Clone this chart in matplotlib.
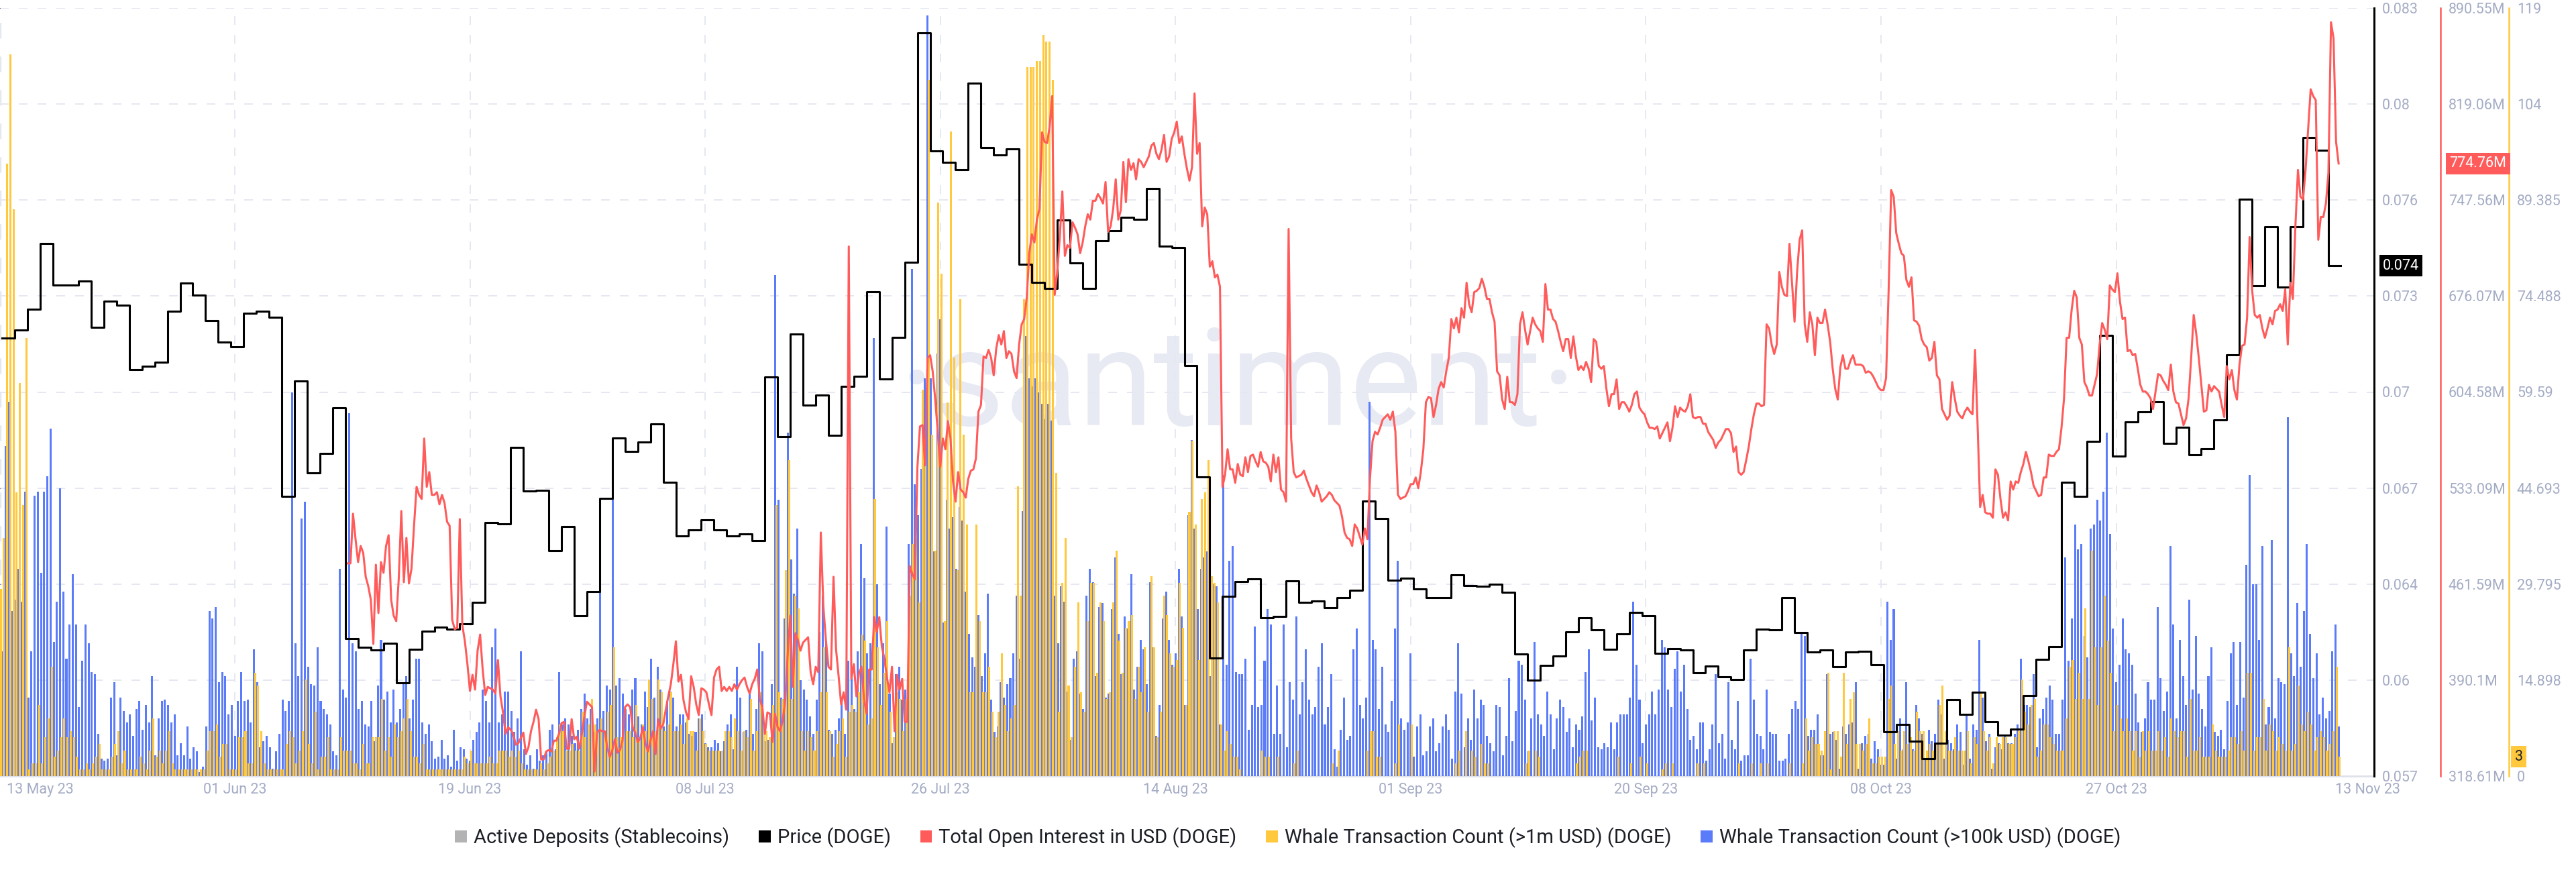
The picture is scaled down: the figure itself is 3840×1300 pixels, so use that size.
import numpy as np
import pandas as pd
import matplotlib
matplotlib.use("Agg")
import matplotlib.pyplot as plt
import matplotlib.dates as mdates
from matplotlib.patches import Patch

# --- Data ---
# Price (DOGE), daily close, drawn as a step line
price_start = "2023-05-13 21:36"
price_end = "2023-11-13 20:50"
price = [
    0.07183, 0.07210, 0.07281, 0.07504, 0.07362, 0.07362, 0.07376, 0.07220, 0.07308, 0.07295,
    0.07075, 0.07088, 0.07102, 0.07274, 0.07369, 0.07327, 0.07242, 0.07169, 0.07154, 0.07267,
    0.07274, 0.07254, 0.06648, 0.07037, 0.06726, 0.06793, 0.06946, 0.06165, 0.06137, 0.06127,
    0.06150, 0.06015, 0.06130, 0.06191, 0.06203, 0.06198, 0.06216, 0.06287, 0.06558, 0.06553,
    0.06812, 0.06665, 0.06668, 0.06462, 0.06545, 0.06242, 0.06325, 0.06641, 0.06844, 0.06800,
    0.06830, 0.06892, 0.06695, 0.06514, 0.06533, 0.06567, 0.06533, 0.06514, 0.06519, 0.06497,
    0.07051, 0.06848, 0.07196, 0.06956, 0.06990, 0.06854, 0.07019, 0.07054, 0.07340, 0.07044,
    0.07186, 0.07440, 0.08215, 0.07816, 0.07777, 0.07752, 0.08046, 0.07828, 0.07802, 0.07824,
    0.07433, 0.07371, 0.07350, 0.07582, 0.07438, 0.07350, 0.07513, 0.07547, 0.07592, 0.07584,
    0.07690, 0.07493, 0.07490, 0.07090, 0.06712, 0.06100, 0.06308, 0.06358, 0.06367, 0.06235,
    0.06240, 0.06360, 0.06287, 0.06292, 0.06269, 0.06303, 0.06328, 0.06631, 0.06573, 0.06364,
    0.06370, 0.06333, 0.06303, 0.06304, 0.06382, 0.06345, 0.06342, 0.06350, 0.06323, 0.06113,
    0.06025, 0.06074, 0.06106, 0.06188, 0.06235, 0.06194, 0.06130, 0.06181, 0.06255, 0.06243,
    0.06115, 0.06132, 0.06128, 0.06050, 0.06072, 0.06035, 0.06027, 0.06127, 0.06198, 0.06194,
    0.06303, 0.06186, 0.06120, 0.06127, 0.06071, 0.06120, 0.06123, 0.06077, 0.05849, 0.05874,
    0.05818, 0.05759, 0.05812, 0.05959, 0.05908, 0.05984, 0.05884, 0.05839, 0.05859, 0.05973,
    0.06096, 0.06138, 0.06695, 0.06646, 0.06832, 0.07191, 0.06783, 0.06898, 0.06932, 0.06966,
    0.06826, 0.06880, 0.06788, 0.06809, 0.06905, 0.07127, 0.07653, 0.07360, 0.07560, 0.07355,
    0.07559, 0.07862, 0.07819, 0.07428,
]

# Total Open Interest in USD (DOGE), millions, one point every 4.8 h
oi_start = "2023-06-10 02:24"
oi_step = "288min"
oi = [
    477, 477, 514, 495, 478, 490, 485, 467, 460, 450, 417, 476, 440, 478, 470, 490, 498, 450, 438, 434,
    466,
    516, 463, 496, 462, 473, 505, 534, 528, 525, 570,
    534, 545, 528, 528, 530, 521, 528, 522, 508, 505,
    435, 428, 429, 510, 431, 419, 402, 382, 394, 383,
    412, 424, 398, 379, 385, 384, 383, 380, 405, 378,
    366, 350, 355, 353, 350, 342, 343, 347, 351, 335,
    340, 352, 359, 368, 361, 331, 331, 337, 338, 337,
    345, 345, 350, 358, 359, 339, 339, 361, 346, 348,
    339, 350, 363, 374, 372, 370, 322, 351, 353, 352,
    352, 340, 333, 338, 346, 336, 338, 345, 370, 372,
    370, 355, 351, 344, 347, 355, 343, 337, 345, 352,
    335, 361, 354, 357, 368, 378, 387, 402, 419, 389,
    394, 375, 366, 361, 393, 385, 372, 364, 384, 383,
    381, 372, 364, 392, 398, 400, 382, 385, 382, 385,
    382, 387, 383, 387, 390, 392, 385, 380, 387, 391,
    398, 376, 370, 350, 366, 365, 344, 365, 355, 352,
    360, 375, 410, 438, 385,
    425, 420, 412, 418, 420, 422, 396, 387, 400, 396,
    500, 445, 420, 400, 398, 467, 413, 393, 372, 381,
    368, 713, 391, 402, 378, 395, 400, 376, 365, 398,
    398, 437, 426, 437, 415, 406, 392, 381, 400, 352,
    394, 383, 391, 359, 359, 475, 469, 465, 549, 579,
    580, 550, 630, 632, 620, 599, 575, 549, 570, 562,
    583, 570, 538, 523, 545, 532, 530, 526, 540, 546,
    547, 555, 590, 595, 631, 630, 636, 630, 617, 637,
    647, 640, 650, 630, 635, 633, 620, 615, 640, 655,
    659, 675, 708, 722, 716, 733, 741, 798, 791, 790,
    802, 825, 677, 694, 720, 754, 706, 714, 712, 731,
    727, 722, 708, 716, 728, 737, 733, 747, 747, 752,
    749, 745, 761, 724, 728, 741, 763, 733, 740, 776,
    746, 778, 770, 775, 763, 778, 776, 772, 776, 780,
    788, 790, 782, 778, 785, 796, 776, 780, 793, 798,
    806, 790, 795, 782, 771,
    762, 772, 827, 782, 790, 728, 742, 737, 698, 702,
    690, 692, 683, 534, 543, 562, 547, 547, 537, 551,
    543, 542, 556, 545, 557, 558, 553, 549, 560, 553,
    552, 549, 538, 558, 545, 556, 532, 530, 523, 726,
    570, 545, 541, 542, 543, 546, 540, 535, 530, 527,
    535, 530, 523, 525, 527, 530, 528, 524, 522, 520,
    512, 500, 496, 495, 490, 506, 503, 497, 491, 503,
    495, 540, 568, 575, 573, 578, 584, 586, 588, 584,
    590, 575, 528, 525, 526, 527, 531, 536, 536, 541,
    533, 545, 562, 597, 601, 600, 586, 595, 607, 612,
    608, 620, 630, 659, 652, 660, 649, 667, 660, 686,
    670, 664, 679, 680, 682, 689, 683, 674, 674, 664,
    657, 620, 617, 599, 592, 616, 597, 597, 595, 603,
    655, 664, 651, 640, 650, 660, 655, 652, 650, 642,
    685, 666, 666, 659, 657, 650, 642, 635, 644, 644,
    630, 646, 631, 621, 624, 621, 627,
    622, 612, 644, 642, 624, 622, 624, 607, 594, 603,
    603, 614, 592, 597, 597, 594, 590, 595, 603, 605,
    593, 590, 588, 582, 578, 578, 577, 579, 570, 574,
    578, 582, 568, 578, 594, 586, 593, 591, 590, 594,
    603, 586, 585, 586, 586, 581, 581, 575, 572, 569,
    563, 567, 569, 573, 577, 577, 574, 560, 564, 545,
    543, 545, 554, 564, 577, 588, 596, 596, 594, 595,
    655, 652, 640, 633, 640, 694, 683, 677, 676, 715,
    686, 657, 694, 718, 725, 655, 642, 664, 655, 632,
    660, 656, 656, 666, 655, 642, 622, 607, 599, 623,
    632, 622, 622, 628, 632, 625, 625, 625, 624, 619,
    620, 619, 616, 612, 608, 606, 606, 615, 680, 755,
    750, 723, 715, 708, 706, 688, 683, 690, 658, 657,
    654, 644, 640, 638, 628, 630, 642, 617, 614, 592,
    588, 584, 587, 612, 600, 590, 587, 585, 590, 593,
    590, 588, 636, 580,
    519, 528, 515, 514, 514, 511, 547, 543, 525, 511,
    515, 509, 538, 532, 538, 537, 545, 551, 560, 553,
    545, 535, 531, 527, 528, 541, 541, 558, 557, 557,
    560, 562, 578, 600, 645, 645, 666, 680, 675, 645,
    640, 612, 608, 602, 602, 610, 618, 640, 656, 651,
    644, 684, 681, 679, 693, 672, 659, 660, 635, 636,
    632, 633, 622, 610, 605, 605, 603, 600, 592, 605,
    618, 617, 613, 610, 606, 625, 605, 597, 596, 588,
    580, 585, 600, 630, 662, 648, 630, 610, 590, 591,
    610, 605, 609, 607, 605, 595, 586, 624, 614, 621,
    606, 599, 625, 639, 640, 660, 720, 680, 662, 660,
    662, 652, 645, 652, 660, 655, 665, 666, 670, 665,
    681, 640, 686, 674, 728, 770, 750, 748, 770, 800,
    830, 825, 822, 718, 735, 735, 745, 768, 880, 868,
    791, 774.76,
]

# Whale Transaction Count (DOGE), one bar every 6 h
bars_start = "2023-05-13 18:00"
bars_step = "6h"
whale_100k = [
    57, 65, 172, 195, 86, 92, 108, 91, 148, 41, 65, 146, 148, 106, 148, 156, 181, 70, 91, 150,
    96, 61, 79, 105, 79, 36, 60, 79, 69, 54, 53, 22, 9, 8, 9, 41, 49, 11, 41, 34,
    28, 32, 21, 35, 39, 24, 37, 28, 52, 11, 30, 39, 40, 37, 28, 32, 11, 17, 11, 26,
    9, 15, 13, 2, 5, 26, 86, 82, 88, 49, 54, 52, 32, 37, 21, 39, 54, 39, 40, 28,
    66, 49, 15, 18, 21, 15, 4, 13, 22, 40, 34, 39, 200, 69, 52, 134, 143, 57, 48, 47,
    67, 39, 35, 32, 27, 13, 11, 108, 45, 41, 189, 69, 65, 35, 39, 27, 26, 39, 18, 47,
    71, 40, 44, 28, 45, 28, 35,
    49, 52, 30, 40, 61, 61, 28, 22, 27, 18, 9, 10, 19, 9, 11, 5, 24, 8, 15, 14,
    9, 8, 19, 23, 28, 45, 39, 28, 67, 77, 28, 32, 44, 44, 34, 23, 30, 65, 14, 6,
    11, 4, 14, 8, 11, 13, 24, 27, 14, 54, 27, 30, 27, 21, 17, 24, 35, 43, 30, 35,
    23, 30, 100, 34, 47, 45, 155, 47, 51, 43, 35, 32, 45, 51, 31, 27, 44, 36, 61, 41,
    57, 45, 26, 39, 44, 41, 26, 32, 32, 28, 22, 21, 23, 30, 32, 17, 15, 15, 19, 17,
    13, 18, 27, 32, 14, 57, 41, 23, 24, 43, 22, 35, 69, 65, 18, 19, 48, 261, 144, 41,
    82, 179, 113, 95, 129,
    50, 45, 40, 31, 22, 40, 75, 94, 69, 24, 22, 24, 30, 40, 22, 60, 51, 35, 65, 121,
    103, 64, 69, 228, 100, 48, 69, 130, 43, 17, 53, 57, 40, 45, 121, 264, 152, 136, 160, 207,
    396, 207, 117, 220, 238, 80, 144, 129, 135, 108, 140, 133, 96, 74, 62, 57, 84, 52, 64, 95,
    40, 23, 26, 49, 41, 48, 51, 64, 94, 61, 138, 229, 207, 203, 207, 200, 194, 186, 194, 185,
    94, 69, 99, 91, 44, 19, 61, 65, 43, 35, 94, 108, 101, 52, 88, 90, 41, 43, 87, 114,
    74, 53, 83, 77, 105, 45, 57, 71, 66, 48, 101, 67, 21, 37, 82, 96, 71, 58, 64, 108,
    83, 37, 136, 175,
    129, 87, 108, 114, 117, 52, 100, 99, 27, 157, 58, 112, 120, 54, 53, 53, 61, 24, 37, 78,
    36, 37, 60, 87, 79, 22, 47, 22, 79, 15, 49, 40, 83, 32, 49, 66, 40, 32, 36, 57,
    69, 27, 36, 53, 14, 5, 24, 41, 19, 21, 66, 77, 37, 30, 41, 195, 71, 66, 35, 57,
    27, 23, 39, 77, 112, 30, 24, 28, 64, 10, 26, 32, 11, 13, 26, 30, 13, 17, 26, 32,
    24, 9, 44, 69, 43, 15, 30, 19, 45, 30, 40, 37, 21, 17, 13, 37, 36, 11, 21, 51,
    18, 34, 60, 58, 40, 13, 30, 70, 32, 27, 21, 44, 32, 14, 30, 40, 36, 23, 30, 15,
    27, 24, 31, 54, 66,
    29, 41, 15, 14, 17, 15, 28, 14, 28, 32, 32, 32, 41, 91, 58, 40, 17, 27, 32, 44,
    32, 45, 71, 67, 45, 36, 56, 65, 44, 58, 35, 19, 21, 14, 28, 28, 8, 14, 27, 53,
    17, 22, 9, 49, 19, 14, 39, 8, 11, 11, 61, 40, 22, 21, 14, 45, 23, 22, 22, 8,
    8, 9, 22, 35, 39, 35, 75, 73, 21, 24, 24, 32, 11, 11, 53, 22, 23, 19, 4, 26,
    22, 27, 28, 49, 4, 17, 21, 22, 9, 18, 14, 6, 6, 91, 71, 87, 9, 30, 14, 49,
    22, 14, 37, 30, 22, 9, 24, 18, 22, 40, 32, 9, 19, 17, 14, 27, 23, 6, 32, 9,
    27, 24, 71, 41,
    18, 22, 4, 15, 17, 14, 21, 17, 17, 22, 27, 61, 37, 37, 36, 53, 15, 30, 35, 41,
    47, 40, 22, 22, 40, 114, 60, 82, 131, 118, 121, 73, 62, 129, 131, 144, 133, 148, 179, 126,
    77, 49, 58, 82, 66, 64, 58, 43, 28, 23, 30, 49, 40, 40, 88, 51, 34, 44, 120, 79,
    30, 71, 52, 37, 92, 45, 73, 43, 35, 26, 52, 67, 23, 21, 24, 14, 39, 64, 70, 37,
    70, 41, 110, 157, 100, 100, 71, 120, 27, 36, 123, 30, 51, 49, 48, 187, 64, 52, 90, 57,
    86, 121, 74, 51, 64, 32, 41, 30, 34, 65, 79, 26,
]
whale_1m = [
    29, 37, 95, 112, 88, 44, 61, 42, 68, 1, 2, 2, 11, 2, 6, 9, 17, 3, 4, 6,
    9, 6, 7, 6, 3, 1, 1, 2, 1, 2, 3, 5, 1, 1, 1, 3, 5, 7, 2, 4,
    1, 1, 1, 1, 3, 2, 1, 4, 9, 3, 4, 2, 4, 7, 2, 1, 1, 1, 1, 1,
    1, 1, 1, 1, 1, 4, 7, 7, 8, 3, 5, 5, 1, 1, 1, 6, 6, 7, 2, 2,
    16, 14, 7, 2, 1, 1, 1, 1, 1, 1, 5, 7, 6, 2, 4, 7, 15, 5, 2, 10,
    1, 3, 3, 6, 1, 1, 1, 6, 4, 4, 4, 2, 2, 1, 5, 2, 2, 6, 6, 6,
    12, 4, 6, 3, 8, 6, 7,
    9, 12, 7, 3, 3, 2, 5, 1, 1, 1, 1, 1, 1, 1, 1, 1, 1, 1, 1, 3,
    2, 4, 2, 2, 2, 2, 2, 3, 2, 2, 4, 4, 4, 3, 4, 3, 4, 2, 1, 1,
    1, 1, 1, 2, 1, 2, 3, 4, 6, 8, 7, 4, 4, 5, 4, 4, 10, 6, 8, 12,
    8, 7, 9, 7, 10, 11, 20, 6, 6, 8, 7, 7, 6, 11, 6, 8, 7, 15, 12, 7,
    15, 13, 7, 8, 13, 7, 7, 8, 5, 9, 7, 7, 4, 9, 7, 5, 4, 4, 4, 4,
    4, 7, 7, 6, 9, 7, 4, 7, 6, 12, 4, 7, 13, 8, 7, 6, 11, 42, 13, 12,
    32, 49, 12, 28, 26,
    7, 4, 7, 6, 4, 7, 13, 20, 13, 7, 3, 5, 7, 9, 3, 10, 11, 10, 13, 22,
    21, 8, 9, 43, 20, 11, 16, 24, 10, 6, 13, 12, 7, 12, 28, 36, 37, 27, 60, 51,
    108, 53, 35, 89, 78, 24, 58, 100, 65, 32, 74, 53, 39, 13, 13, 39, 24, 13, 13, 17,
    10, 6, 10, 19, 11, 7, 9, 11, 45, 28, 74, 110, 110, 110, 111, 111, 115, 114, 114, 108,
    47, 10, 30, 37, 14, 6, 17, 27, 13, 10, 24, 30, 30, 16, 27, 24, 12, 13, 27, 35,
    21, 16, 23, 24, 25, 12, 17, 13, 20, 10, 31, 20, 6, 10, 28, 25, 19, 17, 18, 30,
    23, 11, 41, 52,
    39, 18, 43, 44, 49, 31, 30, 27, 8, 4, 7, 5, 3, 3, 1, 0, 0, 0, 0, 0,
    0, 4, 3, 3, 0, 0, 3, 0, 0, 0, 0, 2, 4, 0, 0, 0, 0, 0, 0, 0,
    0, 0, 0, 2, 0, 4, 0, 0, 0, 0, 0, 0, 0, 0, 4, 7, 7, 3, 3, 0,
    0, 0, 0, 2, 8, 0, 0, 0, 8, 0, 0, 0, 0, 0, 0, 0, 0, 0, 0, 0,
    0, 0, 2, 4, 0, 7, 0, 4, 3, 0, 5, 2, 2, 0, 0, 0, 0, 0, 0, 0,
    0, 0, 0, 0, 2, 4, 0, 4, 3, 0, 0, 0, 0, 0, 0, 0, 0, 0, 0, 0,
    2, 3, 4, 4, 0,
    0, 0, 0, 0, 0, 0, 0, 0, 3, 0, 0, 0, 2, 0, 0, 3, 0, 2, 0, 0,
    0, 0, 1, 2, 0, 2, 0, 0, 0, 0, 0, 0, 0, 2, 0, 2, 0, 0, 0, 0,
    0, 0, 0, 0, 0, 0, 2, 0, 0, 0, 2, 0, 0, 2, 0, 2, 0, 0, 0, 0,
    0, 0, 2, 0, 0, 0, 2, 9, 4, 6, 5, 5, 4, 7, 16, 1, 7, 7, 3, 16,
    5, 12, 13, 5, 5, 4, 5, 9, 2, 2, 3, 3, 3, 12, 14, 5, 7, 4, 7, 5,
    6, 4, 10, 7, 7, 4, 5, 4, 5, 11, 14, 7, 4, 4, 6, 4, 4, 4, 7, 2,
    6, 5, 13, 7,
    4, 6, 2, 6, 5, 6, 6, 5, 5, 6, 7, 15, 10, 8, 11, 12, 3, 4, 8, 8,
    6, 5, 4, 4, 4, 9, 17, 18, 12, 16, 12, 26, 12, 35, 20, 11, 20, 28, 21, 16,
    7, 11, 9, 7, 9, 7, 4, 7, 3, 7, 4, 7, 4, 4, 7, 4, 6, 3, 9, 7,
    6, 7, 7, 3, 12, 4, 4, 6, 3, 3, 3, 8, 4, 3, 3, 3, 4, 6, 6, 5,
    7, 4, 16, 16, 4, 6, 6, 12, 4, 8, 7, 4, 6, 5, 4, 20, 4, 5, 14, 8,
    7, 10, 8, 4, 6, 7, 6, 4, 5, 7, 17, 3,
]

# axis ticks as printed on the chart
price_ticks = [0.057, 0.06025, 0.0635, 0.06675, 0.07, 0.07325, 0.0765, 0.07975, 0.083]
price_labels = ["0.057", "0.06", "0.064", "0.067", "0.07", "0.073", "0.076", "0.08", "0.083"]
oi_ticks = [318.61, 390.10, 461.59, 533.09, 604.58, 676.07, 747.56, 819.06, 890.55]
oi_labels = ["318.61M", "390.1M", "461.59M", "533.09M", "604.58M", "676.07M", "747.56M", "819.06M", "890.55M"]
whale_ticks = [0, 14.898, 29.795, 44.693, 59.59, 74.488, 89.385, 104.28, 119.18]
whale_labels = ["0", "14.898", "29.795", "44.693", "59.59", "74.488", "89.385", "104", "119"]
blue_axis_max = 400  # hidden scale of the >100k series

legend_labels = ["Active Deposits (Stablecoins)", "Price (DOGE)", "Total Open Interest in USD (DOGE)",
                 "Whale Transaction Count (>1m USD) (DOGE)", "Whale Transaction Count (>100k USD) (DOGE)"]

# --- Styling ---
BLUE = "#5b7cfa"
YELLOW = "#ffc83d"
RED = "#ff5b5b"
GRAY = "#b3b3b3"
GRID = "#e6e8f1"
TICK = "#a4acc5"
TEXT = "#1d1f27"

plt.rcParams["font.family"] = ["Roboto", "DejaVu Sans"]

W, H = 3840, 1300
PX = 0.72  # points per pixel at dpi 100
fig = plt.figure(figsize=(W / 100, H / 100), dpi=100)
left_px, right_px, top_px, bottom_px = 0, 3539, 12, 1157
ax = fig.add_axes([left_px / W, (H - bottom_px) / H, (right_px - left_px) / W, (bottom_px - top_px) / H])

bar_t = mdates.date2num(pd.date_range(bars_start, periods=len(whale_100k), freq=bars_step).to_pydatetime())
oi_t = mdates.date2num(pd.date_range(oi_start, periods=len(oi), freq=oi_step).to_pydatetime())
price_t = list(mdates.date2num(pd.date_range(price_start, periods=len(price), freq="D").to_pydatetime()))
price_t.append(mdates.date2num(pd.Timestamp(price_end).to_pydatetime()))
price_y = price + [price[-1]]

x_left = mdates.date2num(pd.Timestamp("2023-05-13 17:31").to_pydatetime())
x_right = mdates.date2num(pd.Timestamp("2023-11-16 11:45").to_pydatetime())
tick_t = mdates.date2num(pd.date_range("2023-06-01 04:48", periods=9, freq=pd.Timedelta(days=18.5)).to_pydatetime())

# base axes: grid, watermark, date labels
ax.set_xlim(x_left, x_right)
ax.set_ylim(price_ticks[0], price_ticks[-1])
ax.set_yticks(price_ticks)
ax.set_xticks(tick_t)
ax.set_xticklabels([mdates.num2date(t).strftime("%d %b %y") for t in tick_t])
dash = (0, (6.7, 7.7))
ax.grid(True, color=GRID, lw=1.4, linestyle=dash)
ax.axvline(x_left, color=GRID, lw=2.5, linestyle=dash)
ax.tick_params(axis="y", left=False, labelleft=False, right=False)
ax.tick_params(axis="x", length=0, pad=7, labelsize=15.5, labelcolor=TICK)
for s in ["left", "top", "right"]:
    ax.spines[s].set_visible(False)
ax.spines["bottom"].set_color("#dfe2eb")
ax.spines["bottom"].set_linewidth(2)

first_lbl = mdates.num2date(bar_t[0]).strftime("%d %b %y")
last_lbl = mdates.num2date(price_t[-1]).strftime("%d %b %y")
ax.annotate(first_lbl, xy=(x_left, 0), xycoords=ax.get_xaxis_transform(), xytext=(7, -7),
            textcoords="offset points", ha="left", va="top", fontsize=15.5, color=TICK)
ax.annotate(last_lbl, xy=(price_t[-1], 0), xycoords=ax.get_xaxis_transform(), xytext=(29, -7),
            textcoords="offset points", ha="center", va="top", fontsize=15.5, color=TICK)

wm = fig.text(0.4805, (H - 634) / H, "\u00b7santiment\u00b7", ha="center", va="baseline",
              fontsize=150, color="#e7e9f3", zorder=0)
fig.canvas.draw()
wm_w = wm.get_window_extent(fig.canvas.get_renderer()).width
wm.set_fontsize(150 * 1010 / wm_w)
wm.remove()
ax.add_artist(wm)
wm.set_transform(fig.transFigure)

# whale bars: the two series sit side by side inside each 6 h slot
bw = 0.16
axb = ax.twinx()
axb.bar(bar_t - 0.045, whale_100k, width=bw, color=BLUE, linewidth=0)
axb.set_ylim(0, blue_axis_max)
axb.set_axis_off()

axy = ax.twinx()
axy.bar(bar_t + 0.045, whale_1m, width=bw, color=YELLOW, linewidth=0)
axy.set_ylim(whale_ticks[0], whale_ticks[-1])
axy.set_yticks(whale_ticks)
axy.set_yticklabels(whale_labels)

# price step line
axp = ax.twinx()
axp.plot(price_t, price_y, drawstyle="steps-post", color="black", lw=2.2)
axp.set_ylim(price_ticks[0], price_ticks[-1])
axp.set_yticks(price_ticks)
axp.set_yticklabels(price_labels)

# open interest line
axo = ax.twinx()
axo.plot(oi_t, oi, color=RED, lw=2.2)
axo.set_ylim(oi_ticks[0], oi_ticks[-1])
axo.set_yticks(oi_ticks)
axo.set_yticklabels(oi_labels)

for a, col, off in [(axp, "black", 0), (axo, RED, 99), (axy, YELLOW, 201)]:
    for s in ["left", "top", "bottom"]:
        a.spines[s].set_visible(False)
    a.spines["right"].set_color(col)
    a.spines["right"].set_linewidth(2.2 if col == "black" else 1.8)
    a.spines["right"].set_position(("outward", off * PX))
    a.tick_params(axis="y", length=0, pad=8.6, labelsize=15.5, labelcolor=TICK)
    a.set_xlim(x_left, x_right)

# last-value tags
axp.annotate(f"{price[-1]:.3f}", xy=(1, price[-1]), xycoords=axp.get_yaxis_transform(),
             xytext=(9.4, 0), textcoords="offset points", ha="left", va="center", fontsize=15.5,
             color="white", bbox=dict(boxstyle="square,pad=0.25", fc="black", ec="none"))
axo.annotate(f"{oi[-1]:.2f}M", xy=(1, oi[-1]), xycoords=axo.get_yaxis_transform(),
             xytext=(81, 0), textcoords="offset points", ha="left", va="center", fontsize=15.5,
             color="white", bbox=dict(boxstyle="square,pad=0.25", fc=RED, ec="none"))
axy.annotate(f"{whale_1m[-1]}", xy=(1, whale_1m[-1]), xycoords=axy.get_yaxis_transform(),
             xytext=(151, 0), textcoords="offset points", ha="left", va="center", fontsize=15.5,
             color=TEXT, bbox=dict(boxstyle="square,pad=0.25", fc=YELLOW, ec="none"))

handles = [Patch(facecolor=c, edgecolor="none") for c in [GRAY, "black", RED, YELLOW, BLUE]]
fig.legend(handles, legend_labels, loc="center", bbox_to_anchor=(0.5, (H - 1249) / H), ncol=5,
           frameon=False, fontsize=21, labelcolor=TEXT, handlelength=0.6, handleheight=0.6,
           handletextpad=0.35, columnspacing=1.5)

fig.savefig("out.png", dpi=100, facecolor="white")
